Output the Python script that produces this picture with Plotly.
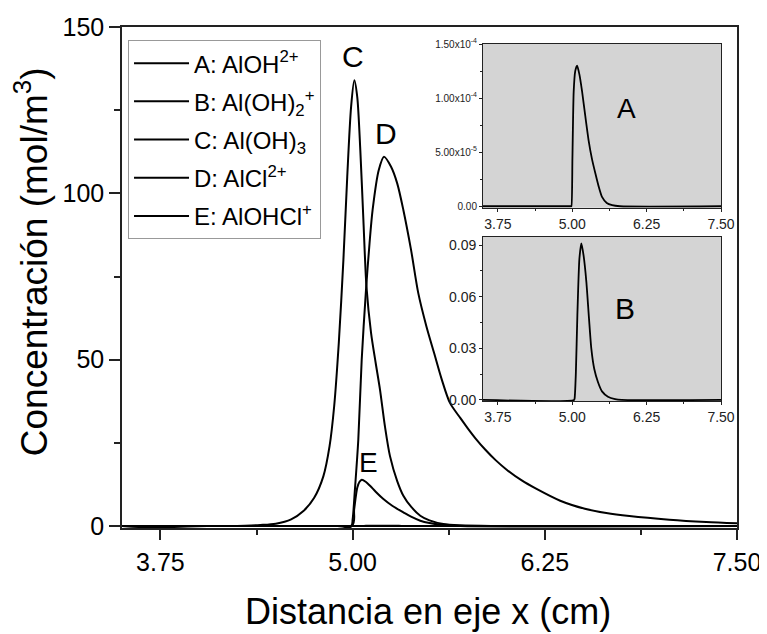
import plotly.graph_objects as go

# ---- data ----
x_A = [3.5, 4.98, 4.986, 5.003, 5.024, 5.05, 5.081, 5.12, 5.165, 5.22, 5.276, 5.33, 5.39, 5.45, 5.50, 5.58, 5.67, 5.8, 7.5]
y_A = [0, 0, 0.0, 0.45e-4, 1.06e-4, 1.25e-4, 1.30e-4, 1.22e-4, 1.063e-4, 0.83e-4, 0.605e-4, 0.44e-4, 0.30e-4, 0.17e-4, 0.086e-4, 0.03e-4, 0.01e-4, 0, 0]

x_B = [3.5, 5.03, 5.04, 5.06, 5.086, 5.12, 5.153, 5.19, 5.237, 5.28, 5.32, 5.37, 5.43, 5.50, 5.60, 5.72, 5.83, 7.5]
y_B = [0, 0, 0.001, 0.015, 0.0494, 0.082, 0.091, 0.084, 0.0687, 0.048, 0.030, 0.018, 0.0106, 0.005, 0.0019, 0.0005, 0, 0]

x_C = [3.5, 4.2, 4.3, 4.4, 4.5, 4.6, 4.68, 4.75, 4.81, 4.85, 4.88, 4.91, 4.94, 4.965, 4.99, 5.011,
       5.03, 5.05, 5.07, 5.09, 5.12, 5.15, 5.178, 5.21, 5.243, 5.29, 5.33, 5.38, 5.44, 5.5, 5.59, 5.7, 5.9, 7.5]
y_C = [0, 0, 0.1, 0.3, 0.7, 2.0, 4.5, 8.5, 15, 24, 36, 55, 80, 105, 126, 134,
       129, 113, 92, 72, 58, 49, 41, 30, 21, 13.5, 9.1, 5.8, 3.1, 1.7, 0.6, 0.2, 0, 0]

x_D = [3.5, 4.99, 5.0, 5.015, 5.037, 5.059, 5.087, 5.11, 5.13, 5.17, 5.204, 5.25, 5.29, 5.33, 5.38, 5.427,
       5.48, 5.53, 5.58, 5.633, 5.7, 5.75, 5.8, 5.862, 5.93, 6.0, 6.1, 6.19, 6.35, 6.51, 6.65, 6.8, 7.06, 7.3, 7.5]
y_D = [0, 0, 2, 11, 26, 50, 71, 85, 95, 107, 111, 108, 103, 95, 83, 70,
       60, 52, 44, 37, 32.5, 29.3, 26.3, 23, 19.8, 17, 13.7, 11.3, 7.6, 5.2, 3.9, 3.0, 1.9, 1.2, 0.8]

x_E = [3.5, 4.995, 5.01, 5.03, 5.045, 5.06, 5.085, 5.113, 5.15, 5.2, 5.26, 5.33, 5.38, 5.44, 5.5, 5.59, 5.7, 7.5]
y_E = [0, 0, 5, 11.5, 13.3, 13.9, 13.3, 12.1, 10.3, 8.1, 6.0, 4.1, 2.8, 1.6, 0.9, 0.3, 0, 0]

legend_names = ["A: AlOH<sup>2+</sup>", "B: Al(OH)<sub>2</sub><sup>+</sup>",
                "C: Al(OH)<sub>3</sub>", "D: AlCl<sup>2+</sup>", "E: AlOHCl<sup>+</sup>"]

x_ticks = [3.75, 5.00, 6.25, 7.50]
x_ticktext = ["3.75", "5.00", "6.25", "7.50"]
yA_ticks = [0, 5e-5, 1e-4, 1.5e-4]
yA_ticktext = ["0.00", "5.00x10<sup>-5</sup>", "1.00x10<sup>-4</sup>", "1.50x10<sup>-4</sup>"]
yB_ticks = [0, 0.03, 0.06, 0.09]
yB_ticktext = ["0.00", "0.03", "0.06", "0.09"]

FONT = "Arial, Liberation Sans, sans-serif"
AX = "#222222"

fig = go.Figure()
series = [(x_A, y_A), (x_B, y_B), (x_C, y_C), (x_D, y_D), (x_E, y_E)]
for i, ((xs, ys), nm) in enumerate(zip(series, legend_names)):
    fig.add_trace(go.Scatter(x=xs, y=ys, mode="lines", name=nm,
                             line=dict(color="black", width=2, shape="spline", smoothing=0.8),
                             legendgroup=f"g{i}", xaxis="x", yaxis="y"))

# insets
fig.add_trace(go.Scatter(x=x_A, y=y_A, mode="lines", showlegend=False,
                         line=dict(color="black", width=1.8, shape="spline", smoothing=0.6),
                         xaxis="x2", yaxis="y2"))
fig.add_trace(go.Scatter(x=x_B, y=y_B, mode="lines", showlegend=False,
                         line=dict(color="black", width=1.8, shape="spline", smoothing=0.6),
                         xaxis="x3", yaxis="y3"))

inset_x = [0.587, 0.974]
inset_A_y = [0.639, 0.966]
inset_B_y = [0.2525, 0.581]

common_inset_x = dict(range=[3.5, 7.5], tickvals=x_ticks, ticktext=x_ticktext,
                      ticks="outside", ticklen=3, tickcolor=AX, showline=True, linecolor=AX,
                      linewidth=1, mirror=True, showgrid=False, zeroline=False, automargin=False,
                      tickfont=dict(family=FONT, size=14, color="#222"),
                      minor=dict(tickvals=[4.375, 5.625, 6.875], ticks="outside", ticklen=2, tickcolor=AX))

fig.update_layout(
    width=767, height=634,
    paper_bgcolor="white", plot_bgcolor="rgba(0,0,0,0)",
    margin=dict(l=114, r=38, t=19, b=114, autoexpand=False),
    font=dict(family=FONT, color="black"),
    xaxis=dict(range=[3.5, 7.5], tickvals=x_ticks, ticktext=x_ticktext,
               ticks="outside", ticklen=10, tickwidth=1.5, tickcolor=AX,
               showline=True, linecolor=AX, linewidth=1.5, mirror=True,
               showgrid=False, zeroline=False, automargin=False,
               tickfont=dict(size=25), domain=[0, 1], ticklabelstandoff=1,
               minor=dict(tickvals=[4.375, 5.625, 6.875], ticks="outside", ticklen=5, tickcolor=AX)),
    yaxis=dict(range=[-0.6, 150], tickvals=[0, 50, 100, 150],
               ticks="outside", ticklen=11, tickwidth=1.5, tickcolor=AX,
               showline=True, linecolor=AX, linewidth=1.5, mirror=True,
               showgrid=False, zeroline=False, automargin=False,
               tickfont=dict(size=25), domain=[0, 1],
               minor=dict(tickvals=[25, 75, 125], ticks="outside", ticklen=6, tickcolor=AX)),
    xaxis2=dict(anchor="y2", domain=inset_x, **common_inset_x),
    yaxis2=dict(anchor="x2", domain=inset_A_y, range=[-1.5e-6, 1.5e-4],
                tickvals=yA_ticks, ticktext=yA_ticktext, automargin=False,
                ticks="outside", ticklen=3, tickcolor=AX, showline=True, linecolor=AX,
                linewidth=1, mirror=True, showgrid=False, zeroline=False,
                tickfont=dict(family=FONT, size=10, color="#222"),
                minor=dict(tickvals=[2.5e-5, 7.5e-5, 1.25e-4], ticks="outside", ticklen=2, tickcolor=AX)),
    xaxis3=dict(anchor="y3", domain=inset_x, **common_inset_x),
    yaxis3=dict(anchor="x3", domain=inset_B_y, range=[-0.0009, 0.0948],
                tickvals=yB_ticks, ticktext=yB_ticktext, automargin=False,
                ticks="outside", ticklen=3, tickcolor=AX, showline=True, linecolor=AX,
                linewidth=1, mirror=True, showgrid=False, zeroline=False,
                tickfont=dict(family=FONT, size=14, color="#222"),
                minor=dict(tickvals=[0.015, 0.045, 0.075], ticks="outside", ticklen=2, tickcolor=AX)),
    legend=dict(x=0.0098, y=0.974, xanchor="left", yanchor="top",
                bgcolor="white", bordercolor="#999", borderwidth=1,
                font=dict(size=24), tracegroupgap=4, itemwidth=55),
    showlegend=True,
)

# gray backgrounds for insets
for xr, yr in [("x2 domain", "y2 domain"), ("x3 domain", "y3 domain")]:
    fig.add_shape(type="rect", xref=xr, yref=yr, x0=0, x1=1, y0=0, y1=1,
                  fillcolor="#d4d4d4", line=dict(width=0), layer="below")

# axis titles
fig.add_annotation(x=0.498, y=-0.166, xref="paper", yref="paper", text="Distancia en eje x (cm)",
                   showarrow=False, font=dict(size=36), xanchor="center", yanchor="middle")
fig.add_annotation(x=-0.146, y=0.531, xref="paper", yref="paper", text="Concentración (mol/m<sup>3</sup>)",
                   showarrow=False, font=dict(size=37), textangle=-90, xanchor="center", yanchor="middle")

# curve labels
fig.add_annotation(x=5.0, y=141, text="C", showarrow=False, font=dict(size=30), xref="x", yref="y")
fig.add_annotation(x=5.22, y=118, text="D", showarrow=False, font=dict(size=30), xref="x", yref="y")
fig.add_annotation(x=5.10, y=19, text="E", showarrow=False, font=dict(size=28), xref="x", yref="y")
fig.add_annotation(x=5.92, y=0.9e-4, text="A", showarrow=False, font=dict(size=28), xref="x2", yref="y2")
fig.add_annotation(x=5.88, y=0.053, text="B", showarrow=False, font=dict(size=30), xref="x3", yref="y3")

fig.write_html("out.html")
